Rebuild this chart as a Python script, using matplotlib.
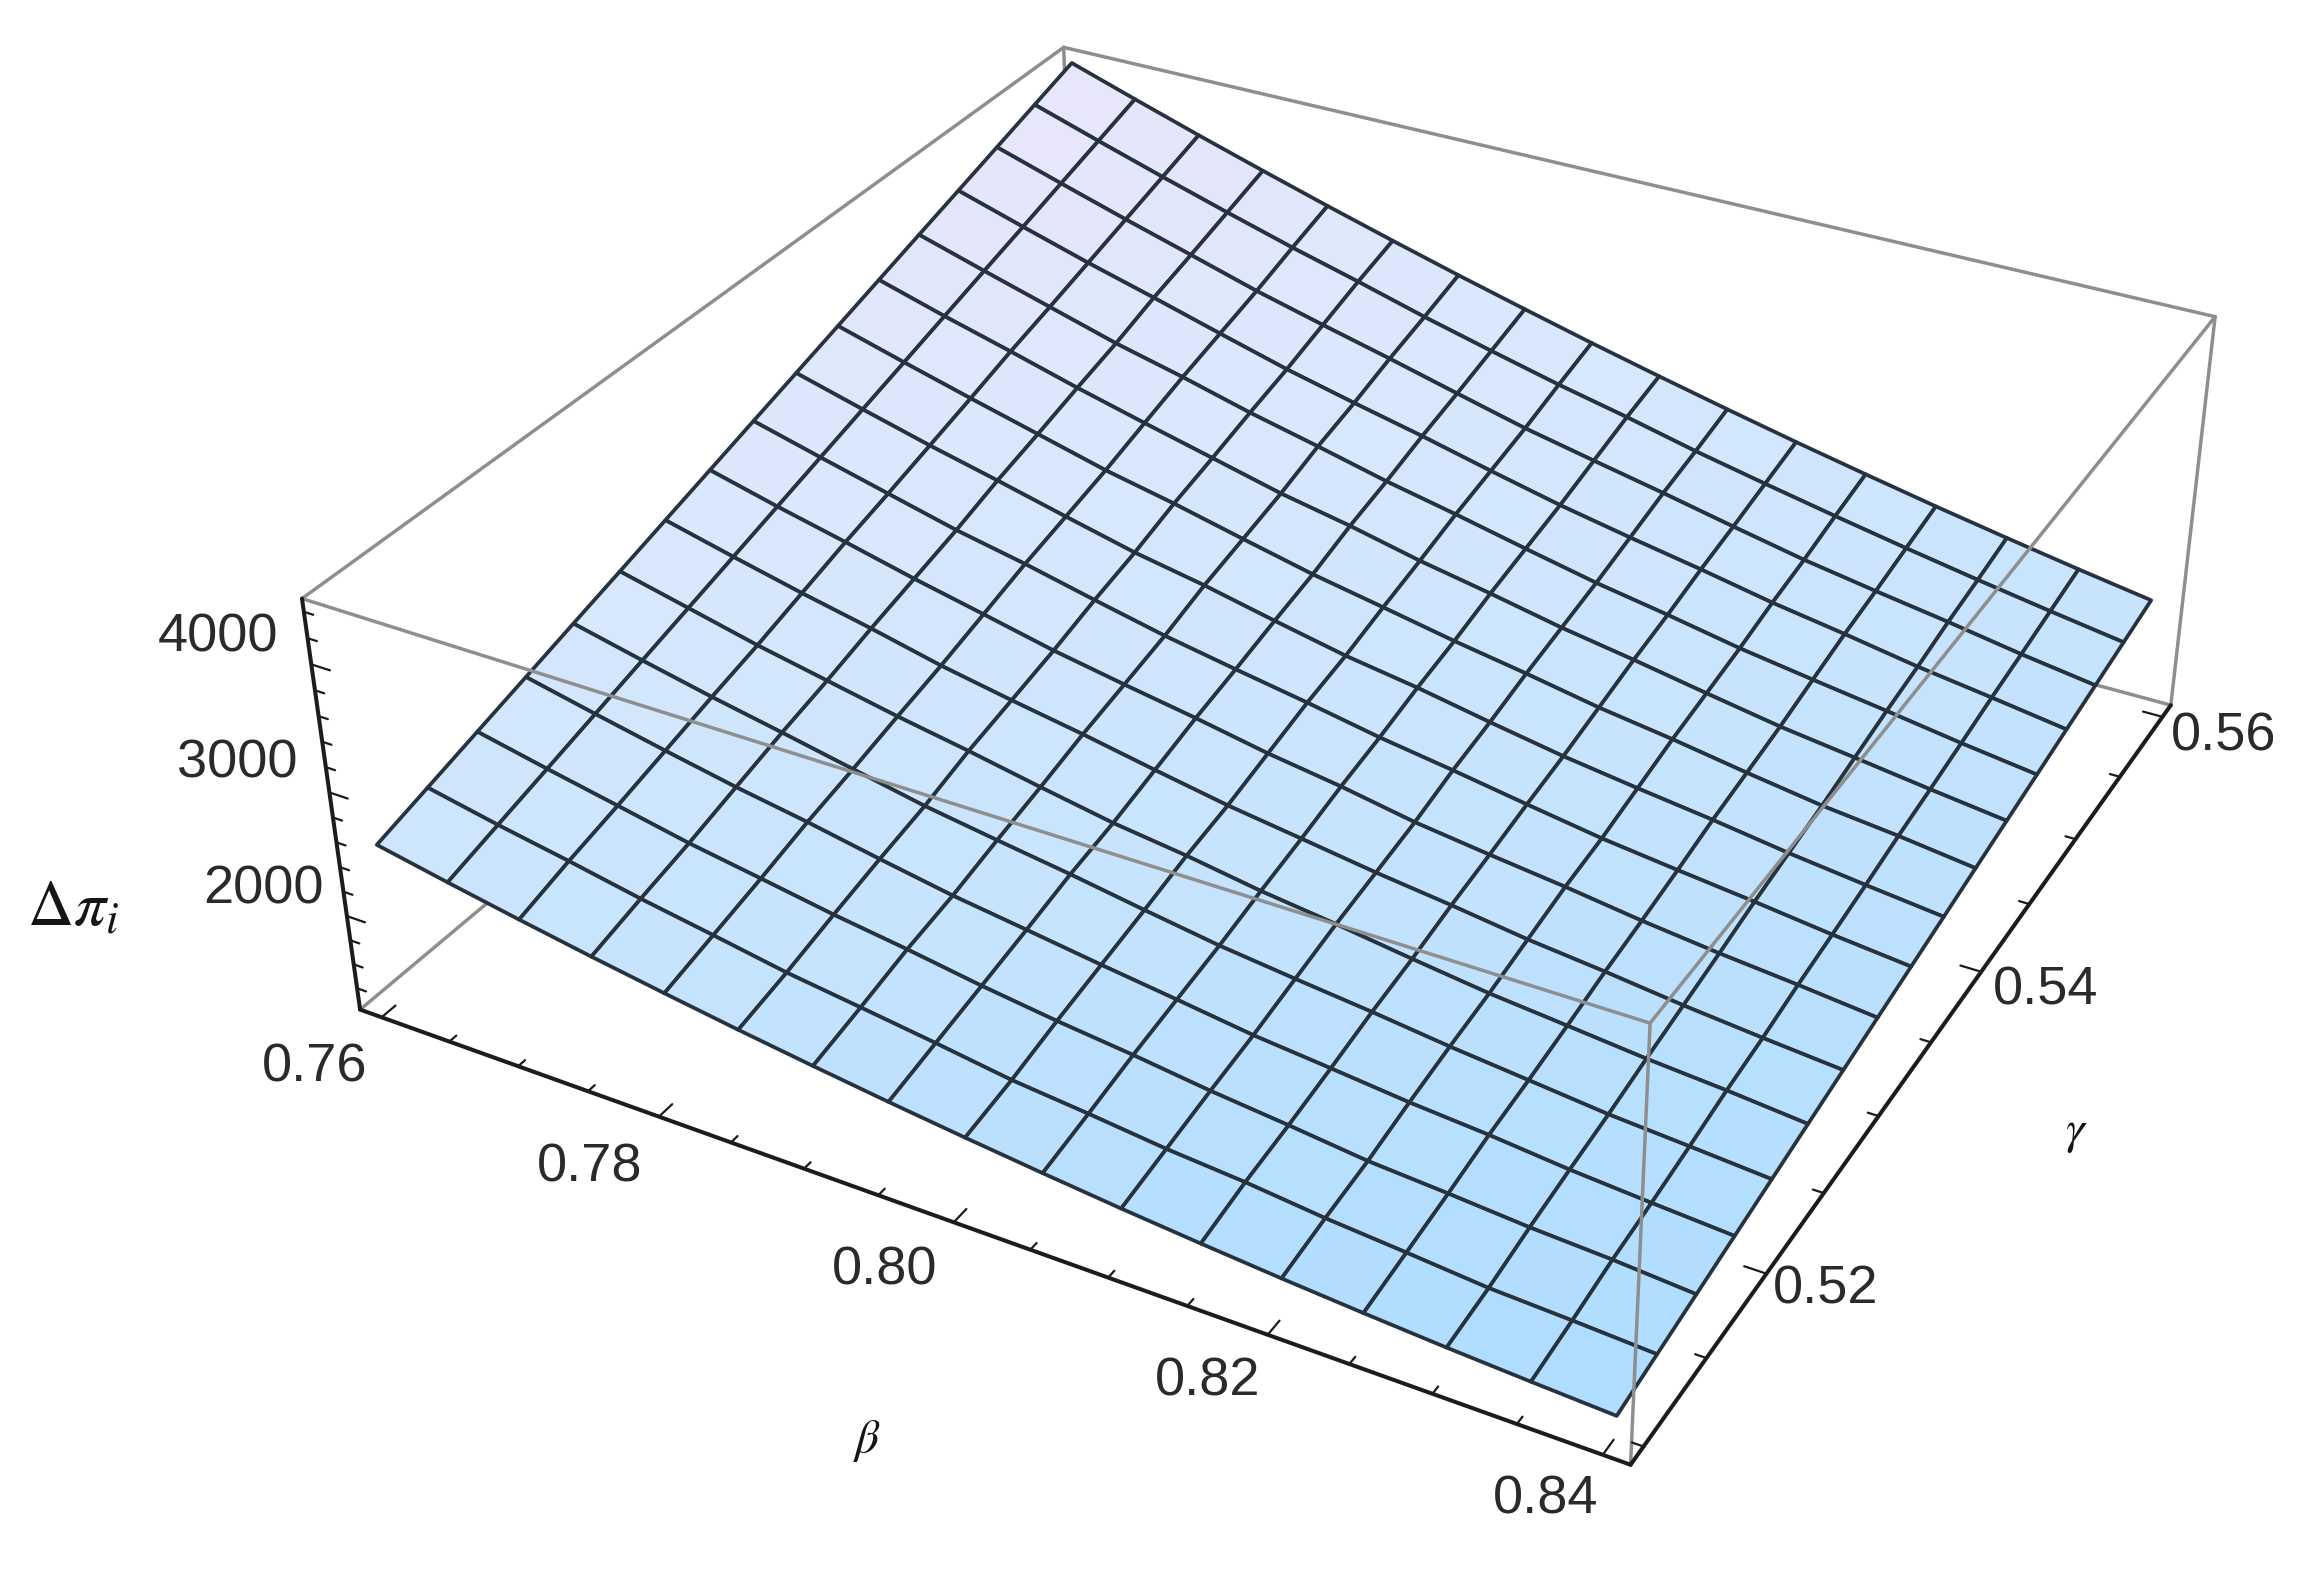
import numpy as np, matplotlib
matplotlib.use('Agg')
import matplotlib.pyplot as plt
from matplotlib.colors import LinearSegmentedColormap

plt.rcParams['mathtext.fontset'] = 'stix'

# ---- data ----
beta = [0.76, 0.765, 0.77, 0.775, 0.78, 0.785, 0.79, 0.795, 0.80,
        0.805, 0.81, 0.815, 0.82, 0.825, 0.83, 0.835, 0.84]
gamma = [0.51, 0.513125, 0.51625, 0.519375, 0.5225, 0.525625, 0.52875, 0.531875, 0.535,
         0.538125, 0.54125, 0.544375, 0.5475, 0.550625, 0.55375, 0.556875, 0.56]
delta_pi = [
 [2530,2416,2308,2205,2109,2017,1932,1852,1778,1709,1645,1588,1536,1490,1449,1415,1385],
 [2652,2534,2428,2314,2213,2108,2027,1943,1852,1791,1722,1672,1604,1553,1497,1469,1435],
 [2774,2651,2534,2415,2317,2216,2130,2033,1950,1880,1799,1733,1660,1617,1567,1533,1485],
 [2896,2769,2647,2531,2430,2316,2209,2124,2036,1954,1868,1806,1740,1690,1626,1578,1535],
 [3018,2886,2760,2645,2525,2406,2312,2222,2122,2027,1954,1886,1809,1744,1678,1633,1585],
 [3139,3003,2866,2747,2628,2522,2406,2296,2215,2116,2038,1950,1868,1807,1744,1695,1635],
 [3261,3120,2985,2861,2725,2613,2509,2394,2285,2197,2107,2030,1944,1878,1803,1741,1685],
 [3383,3238,3104,2964,2836,2705,2596,2493,2379,2287,2176,2095,2020,1934,1862,1802,1735],
 [3505,3356,3211,3067,2948,2813,2684,2576,2473,2361,2268,2168,2072,1998,1928,1851,1785],
 [3627,3473,3324,3187,3044,2905,2795,2666,2544,2450,2338,2233,2148,2069,1980,1905,1835],
 [3749,3590,3437,3289,3140,3018,2881,2748,2637,2523,2422,2312,2224,2124,2032,1965,1885],
 [3871,3708,3556,3398,3252,3111,2969,2855,2723,2612,2492,2392,2284,2180,2098,2014,1935],
 [3993,3826,3663,3500,3362,3211,3078,2938,2817,2687,2562,2458,2345,2252,2163,2069,1985],
 [4114,3942,3775,3620,3459,3302,3165,3035,2894,2760,2645,2537,2420,2322,2216,2128,2035],
 [4236,4060,3888,3723,3556,3409,3267,3118,2972,2849,2729,2602,2480,2378,2282,2177,2085],
 [4358,4177,4001,3831,3667,3515,3355,3208,3066,2938,2799,2675,2556,2442,2334,2232,2135],
 [4480,4295,4114,3940,3771,3608,3450,3299,3152,3012,2877,2747,2624,2505,2393,2286,2185],
]
beta_ticks = ['0.76', '0.78', '0.80', '0.82', '0.84']
gamma_ticks = ['0.52', '0.54', '0.56']
z_ticks = ['2000', '3000', '4000']

# ---- layout ----
W, H = 2324, 1571
S = W / 1568
BL, GL, ZL = (0.7584, 0.8416), (0.509, 0.561), (1220, 4500)
sc, tx, ty = 10436.27, 1307.06, 915.11
L = sc * 0.185
left, bottom = tx - sc * 0.095, ty - sc * 0.095

fig = plt.figure(figsize=(W / 100, H / 100), dpi=100, facecolor='white')
ax = fig.add_axes([left / W, bottom / H, L / W, L / H], projection='3d')
ax.set_axis_off()
ax.computed_zorder = False
ax.patch.set_alpha(0)
ax.view_init(32.402, -61.216, 0.283)
ax.set_proj_type('persp', focal_length=0.4442)
ax.set_box_aspect((1, 0.9901, 0.3445))
ax.set_xlim(*BL); ax.set_ylim(*GL); ax.set_zlim(*ZL)

cm = LinearSegmentedColormap.from_list(
    's', [(0, '#AEDCFF'), (.25, '#C6E3FD'), (.55, '#D8E7FC'), (1, '#EAE6FA')])
X, Y = np.meshgrid(beta, gamma)
Z = np.array(delta_pi, float)
surf = ax.plot_surface(X, Y, Z, rstride=1, cstride=1, cmap=cm,
                       vmin=Z.min(), vmax=Z.max(), shade=False,
                       edgecolor='#26333e', linewidth=2.7, zorder=2)
surf.set_clip_on(False)

def seg(a, b, c, lw, z):
    ax.plot([a[0], b[0]], [a[1], b[1]], [a[2], b[2]], color=c, lw=lw,
            zorder=z, clip_on=False, solid_capstyle='round')

x0, x1 = BL; y0, y1 = GL; z0, z1 = ZL
grey = '#8e8e8e'
for a, b in [((x0, y0, z0), (x0, y1, z0)), ((x0, y1, z0), (x1, y1, z0)),
             ((x0, y1, z0), (x0, y1, z1))]:
    seg(a, b, grey, 2.5, 1)
for a, b in [((x0, y0, z1), (x1, y0, z1)), ((x1, y0, z1), (x1, y1, z1)),
             ((x0, y0, z1), (x0, y1, z1)), ((x0, y1, z1), (x1, y1, z1)),
             ((x1, y0, z0), (x1, y0, z1)), ((x1, y1, z0), (x1, y1, z1))]:
    seg(a, b, grey, 2.5, 3)
black = '#1c1c1c'
seg((x0, y0, z0), (x0, y0, z1), black, 2.9, 4)
seg((x0, y0, z0), (x1, y0, z0), black, 2.9, 4)
seg((x1, y0, z0), (x1, y1, z0), black, 2.9, 4)
for t in np.arange(0.76, 0.8401, 0.005):
    major = abs((t - 0.76) / 0.02 - round((t - 0.76) / 0.02)) < 1e-6
    seg((t, y0, z0), (t, y0 + (y1 - y0) * (0.016 if major else 0.008), z0), black, 1.6, 4)
for t in np.arange(0.51, 0.5601, 0.005):
    major = abs((t - 0.52) / 0.02 - round((t - 0.52) / 0.02)) < 1e-6
    seg((x1, t, z0), (x1 - (x1 - x0) * (0.016 if major else 0.008), t, z0), black, 1.6, 4)
for t in np.arange(1400, 4401, 200):
    major = t % 1000 == 0
    seg((x0, y0, t), (x0 + (x1 - x0) * (0.016 if major else 0.008), y0, t), black, 1.6, 4)

def lab(s, x, y, **kw):
    fig.text(x * S / W, 1 - y * S / H, s, ha='center', va='center', **kw)

tk = dict(family='Liberation Sans', fontsize=39, color='#2a2a2a')
for s, (x, y) in zip(z_ticks, [(178, 600), (160, 515), (147, 430)]):
    lab(s, x, y, **tk)
for s, (x, y) in zip(beta_ticks, [(212, 720), (398, 788), (597, 857), (815, 932), (1043, 1012)]):
    lab(s, x, y, **tk)
for s, (x, y) in zip(gamma_ticks, [(1232, 870), (1380, 668), (1500, 497)]):
    lab(s, x, y, **tk)
lab(r'$\Delta\pi_{i}$', 49, 612, fontsize=46, color='#151515')
lab(r'$\beta$', 585, 972, fontsize=34, color='#151515')
lab(r'$\gamma$', 1401, 764, fontsize=34, color='#151515')

fig.savefig('out.png', dpi=100)
